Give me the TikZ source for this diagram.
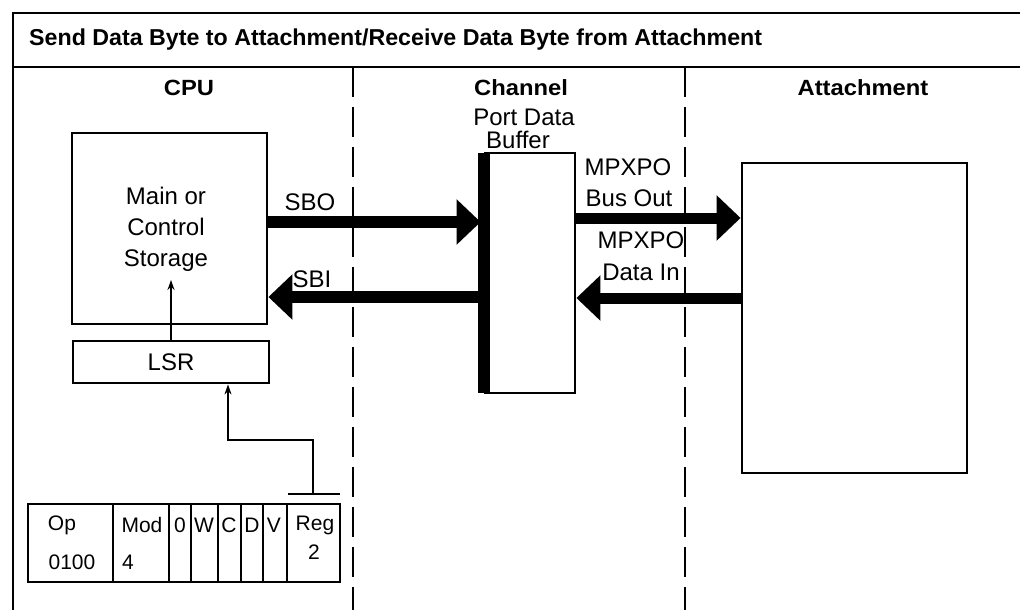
\documentclass[tikz,border=0pt]{standalone}
\usepackage{fontspec}
\setmainfont{Liberation Sans}
\usetikzlibrary{arrows.meta}
\tikzset{
  box/.style={draw, line width=2.8pt, inner sep=0pt, rectangle},
  lbl/.style={font=\fontsize{24}{31}\selectfont, inner sep=0pt, align=center},
  fmt/.style={font=\fontsize{21}{24}\selectfont, inner sep=0pt},
  hdr/.style={font=\fontsize{22}{26}\selectfont\bfseries, inner sep=0pt},
  frame/.style={line width=2.4pt},
  divider/.style={line width=2.4pt, dash pattern=on 30pt off 10pt},
  bus/.style={line width=12pt, -{Triangle[length=24pt,width=44pt]}},
  thin/.style={line width=1.6pt},
  thinarrow/.style={line width=1.6pt, -{Stealth[length=10pt,width=7pt]}},
}
\begin{document}
\begin{tikzpicture}[x=1pt,y=-1pt]
\useasboundingbox (0,0) rectangle (1020,610);
% frame
\coordinate (tl) at (13,13);
\coordinate (tr) at (1022,13);
\coordinate (bl) at (13,612);
\coordinate (sl) at (13,67);
\coordinate (sr) at (1022,67);
\draw[frame] (bl) -- (tl) -- (tr);
\draw[frame] (sl) -- (sr);
% title
\node[anchor=west, inner sep=0pt] (title) at (29,40)
  {\resizebox{733pt}{\height}{\fontsize{23}{26}\selectfont\bfseries Send Data Byte to Attachment/Receive Data Byte from Attachment}};
% headers
\node[hdr] (hcpu) at (189,88) {\scalebox{1.08}[1]{CPU}};
\node[hdr] (hch) at (521,88) {\scalebox{1.08}[1]{Channel}};
\node[hdr] (hat) at (863,88) {\scalebox{1.08}[1]{Attachment}};
% dividers
\coordinate (d1t) at (353,67);
\coordinate (d1b) at (353,612);
\coordinate (d2t) at (685,67);
\coordinate (d2b) at (685,612);
\draw[divider] (d1t) -- (d1b);
\draw[divider] (d2t) -- (d2b);
% CPU boxes
\node[box, minimum width=195pt, minimum height=191pt] (storage) at (169.5,228.5) {};
\node[lbl] (stxt) at (166,229) {Main or\\Control\\Storage};
\node[box, minimum width=196pt, minimum height=42pt, lbl] (lsr) at (171,362) {LSR};
% buffer
\node[box, minimum width=90pt, minimum height=240pt] (buffer) at (530,273) {};
\draw[line width=12pt] ([yshift=-1.4pt]buffer.north west) -- ([yshift=1.4pt]buffer.south west);
\node[lbl] (pdb1) at (524,117) {Port Data};
\node[lbl] (pdb2) at (518,140) {Buffer};
% attachment
\node[box, minimum width=225pt, minimum height=310pt] (attach) at (854.5,318) {};
% buses
\coordinate (sboS) at (storage.east |- 0,222);
\coordinate (sboE) at ([xshift=-3pt]buffer.west |- 0,222);
\draw[bus] (sboS) -- (sboE);
\node[lbl] (sbo) at (310,202) {SBO};
\coordinate (sbiS) at (buffer.west |- 0,297);
\coordinate (sbiE) at (storage.east |- 0,297);
\draw[bus] (sbiS) -- (sbiE);
\node[lbl] (sbi) at (312,279) {SBI};
\coordinate (boS) at (buffer.east |- 0,218);
\coordinate (boE) at (attach.west |- 0,218);
\draw[bus, line width=11pt] (boS) -- (boE);
\node[lbl] (m1) at (628,167) {MPXPO};
\node[lbl] (m2) at (629,198) {Bus Out};
\coordinate (diS) at (attach.west |- 0,298);
\coordinate (diE) at (buffer.east |- 0,298);
\draw[bus, line width=11pt] (diS) -- (diE);
\node[lbl] (m3) at (641,240) {MPXPO};
\node[lbl] (m4) at (641,272) {Data In};
% LSR to storage
\coordinate (lsrup) at (171,280);
\draw[thinarrow] (lsr.north) -- (lsrup);
% instruction format
\node[box, line width=2.6pt, minimum width=312pt, minimum height=78pt] (fmtbox) at (184,543) {};
\foreach \xx in {113,169,191,218,241,263,287} {
  \draw[line width=2pt] (\xx,504) -- (\xx,582);
}
\node[fmt] (op) at (62,525) {Op};
\node[fmt] (opv) at (72,562) {0100};
\node[fmt] (mod) at (142,525) {Mod};
\node[fmt] (modv) at (128,562) {4};
\node[fmt] (f0) at (180,525) {0};
\node[fmt] (fw) at (204,525) {W};
\node[fmt] (fc) at (229,525) {C};
\node[fmt] (fd) at (252,525) {D};
\node[fmt] (fv) at (274,525) {V};
\node[fmt] (reg) at (315,525) {Reg};
\node[fmt] (regv) at (314,552) {2};
% T-bar and path to LSR
\coordinate (tb1) at (288,494);
\coordinate (tb2) at (340,494);
\coordinate (tv) at (313,494);
\coordinate (bend1) at (313,440);
\coordinate (bend2) at (228,440);
\draw[thin] (tb1) -- (tb2);
\draw[thinarrow] (tv) -- (bend1) -- (bend2) -- (bend2 |- lsr.south);
\end{tikzpicture}
\end{document}
